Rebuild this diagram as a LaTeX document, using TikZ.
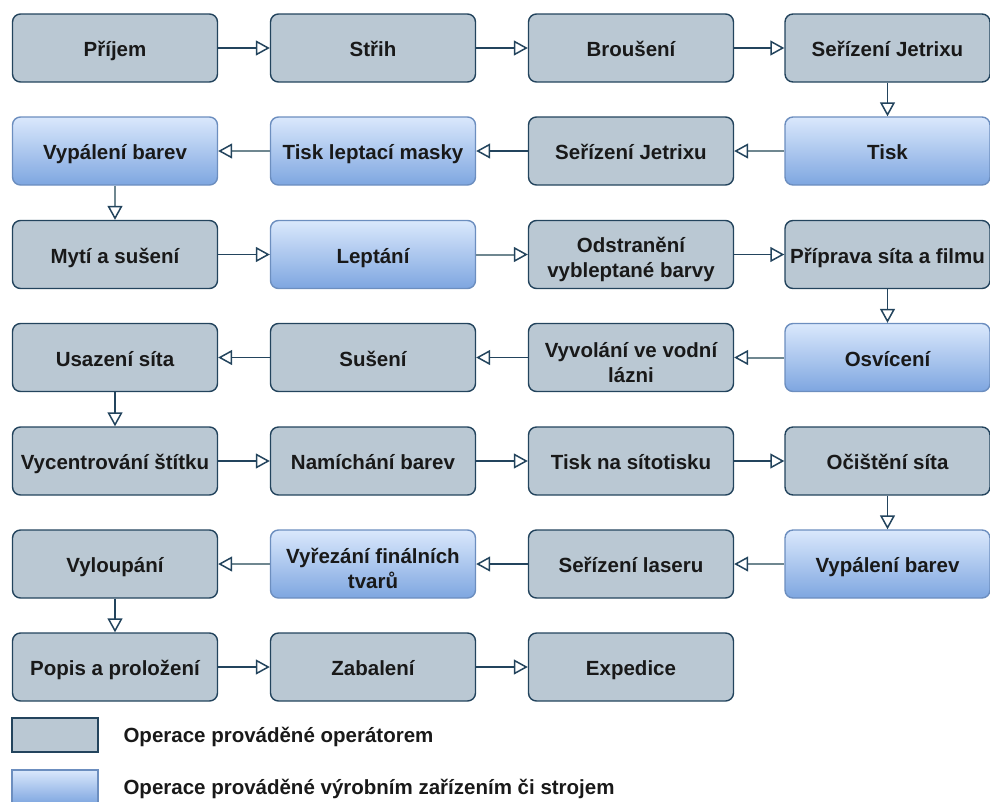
\documentclass[tikz,border=0pt]{standalone}
\usepackage{fontspec}
\setmainfont{Liberation Sans}
\usetikzlibrary{arrows.meta}
\definecolor{opfill}{HTML}{BAC8D3}
\definecolor{opline}{HTML}{23445D}
\definecolor{mtop}{HTML}{DAE8FC}
\definecolor{mbot}{HTML}{7EA6E0}
\definecolor{mline}{HTML}{6C8EBF}
\definecolor{flowlight}{HTML}{6F8790}
% extra head room above the first line of two-line labels
\newcommand\headroom{\rule{0pt}{25pt}}
\tikzset{
  x=1pt, y=1pt,
  box/.style={rounded corners=8pt, line width=1.4pt, minimum width=205pt,
    minimum height=68pt, align=center, inner sep=2pt,
    font=\fontsize{20.5}{25}\selectfont\bfseries, text=black!90},
  one/.style={text height=17pt, text depth=0pt},
  opbox/.style={box, draw=opline, fill=opfill},
  mcbox/.style={box, draw=mline, top color=mtop, bottom color=mbot},
  flow/.style={draw=opline, line width=1.5pt,
    -{Triangle[open, length=14pt, width=15pt, line width=1.5pt, color=opline]}},
  flowm/.style={flow, draw=flowlight, line width=2pt},
  legtext/.style={anchor=west, font=\fontsize{20.5}{24}\selectfont\bfseries, text=black!90}
}
\begin{document}
\begin{tikzpicture}
\useasboundingbox (0,0) rectangle (990,-801);
% row 1
\node[opbox,one] (a1) at (115,-48) {Příjem};
\node[opbox,one] (a2) at (373,-48) {Střih};
\node[opbox,one] (a3) at (631,-48) {Broušení};
\node[opbox,one] (a4) at (887.5,-48) {Seřízení Jetrixu};
% row 2
\node[mcbox,one] (b1) at (115,-151) {Vypálení barev};
\node[mcbox,one] (b2) at (373,-151) {Tisk leptací masky};
\node[opbox,one] (b3) at (631,-151) {Seřízení Jetrixu};
\node[mcbox,one] (b4) at (887.5,-151) {Tisk};
% row 3
\node[opbox,one] (c1) at (115,-254.5) {Mytí a sušení};
\node[mcbox,one] (c2) at (373,-254.5) {Leptání};
\node[opbox] (c3) at (631,-254.5) {\headroom Odstranění\\vybleptané barvy};
\node[opbox,one] (c4) at (887.5,-254.5) {Příprava síta a filmu};
% row 4
\node[opbox,one] (d1) at (115,-357.5) {Usazení síta};
\node[opbox,one] (d2) at (373,-357.5) {Sušení};
\node[opbox] (d3) at (631,-357.5) {\headroom Vyvolání ve vodní\\lázni};
\node[mcbox,one] (d4) at (887.5,-357.5) {Osvícení};
% row 5
\node[opbox,one] (e1) at (115,-461) {Vycentrování štítku};
\node[opbox,one] (e2) at (373,-461) {Namíchání barev};
\node[opbox,one] (e3) at (631,-461) {Tisk na sítotisku};
\node[opbox,one] (e4) at (887.5,-461) {Očištění síta};
% row 6
\node[opbox,one] (f1) at (115,-564) {Vyloupání};
\node[mcbox] (f2) at (373,-564) {\headroom Vyřezání finálních\\tvarů};
\node[opbox,one] (f3) at (631,-564) {Seřízení laseru};
\node[mcbox,one] (f4) at (887.5,-564) {Vypálení barev};
% row 7
\node[opbox,one] (g1) at (115,-667) {Popis a proložení};
\node[opbox,one] (g2) at (373,-667) {Zabalení};
\node[opbox,one] (g3) at (631,-667) {Expedice};

% flow of operations
\draw[flow] (a1) -- (a2);
\draw[flow] (a2) -- (a3);
\draw[flow] (a3) -- (a4);
\draw[flow] (a4) -- (b4);
\draw[flowm] (b4) -- (b3);
\draw[flow] (b3) -- (b2);
\draw[flowm] (b2) -- (b1);
\draw[flowm] (b1) -- (c1);
\draw[flow] (c1) -- (c2);
\draw[flowm] (c2) -- (c3);
\draw[flow] (c3) -- (c4);
\draw[flow] (c4) -- (d4);
\draw[flowm] (d4) -- (d3);
\draw[flow] (d3) -- (d2);
\draw[flow] (d2) -- (d1);
\draw[flow] (d1) -- (e1);
\draw[flow] (e1) -- (e2);
\draw[flow] (e2) -- (e3);
\draw[flow] (e3) -- (e4);
\draw[flow] (e4) -- (f4);
\draw[flowm] (f4) -- (f3);
\draw[flow] (f3) -- (f2);
\draw[flowm] (f2) -- (f1);
\draw[flow] (f1) -- (g1);
\draw[flow] (g1) -- (g2);
\draw[flow] (g2) -- (g3);

% legend
\node[draw=opline, fill=opfill, line width=1.4pt, minimum width=86pt, minimum height=34pt, inner sep=0pt] (l1) at (55,-735) {};
\node[draw=mline, top color=mtop, bottom color=mbot, line width=1.4pt, minimum width=86pt, minimum height=34pt, inner sep=0pt] (l2) at (55,-787) {};
\node[legtext] (t1) at (120,-737) {Operace prováděné operátorem};
\node[legtext] (t2) at (120,-789) {Operace prováděné výrobním zařízením či strojem};
\end{tikzpicture}
\end{document}
